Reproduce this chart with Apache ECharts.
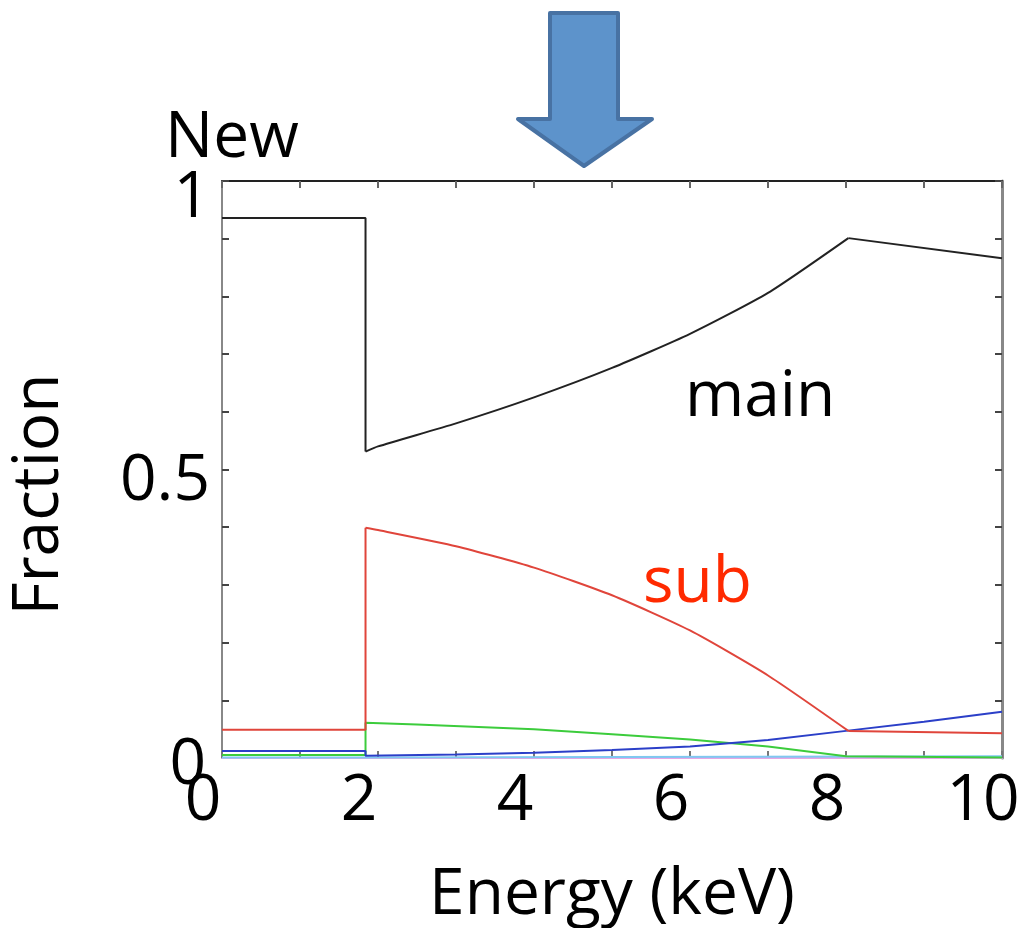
<!DOCTYPE html>
<html>
<head>
<meta charset="utf-8">
<script src="https://cdn.jsdelivr.net/npm/echarts@6/dist/echarts.min.js"></script>
<style>
  html, body { margin: 0; padding: 0; background: #fff; }
  #chart { width: 1033px; height: 928px; }
</style>
</head>
<body>
<div id="chart"></div>
<script>
// Fraction of each component versus photon energy (keV).
// Each component: a flat part below the edge, the jump at the edge, then the curve above it.
const mainLowEnergy = [0, 1.84, 1.84];
const mainLowFraction = [0.936, 0.936, 0.531];
const mainRiseEnergy = [1.84, 2, 3, 4, 5, 6, 7, 8.03];
const mainRiseFraction = [0.531, 0.540, 0.580, 0.625, 0.676, 0.735, 0.806, 0.901];
const mainTailEnergy = [8.03, 10];
const mainTailFraction = [0.901, 0.866];

const subLowEnergy = [0, 1.84, 1.84];
const subLowFraction = [0.049, 0.049, 0.399];
const subFallEnergy = [1.84, 2, 3, 4, 5, 6, 7, 8.03];
const subFallFraction = [0.399, 0.395, 0.367, 0.330, 0.282, 0.221, 0.143, 0.047];
const subTailEnergy = [8.03, 10];
const subTailFraction = [0.047, 0.043];

const greenEnergy = [0, 1.84, 1.84, 2.5, 4, 5, 6, 7, 8, 10];
const greenFraction = [0.005, 0.005, 0.061, 0.058, 0.05, 0.041, 0.032, 0.02, 0.003, 0.001];

const blueEnergy = [0, 1.84, 1.84, 3, 4, 5, 6, 7, 8, 9, 10];
const blueFraction = [0.012, 0.012, 0.004, 0.006, 0.009, 0.014, 0.02, 0.031, 0.047, 0.063, 0.08];

const cyanEnergy = [0, 1.84, 1.84, 10];
const cyanFraction = [0.001, 0.001, 0.003, 0.003];

const magentaEnergy = [0, 10];
const magentaFraction = [0, 0];

const xTickLabels = ['0', '2', '4', '6', '8', '10'];
const yTickLabels = ['0', '0.5', '1'];

const FONT = 'Open Sans';

function pairs(xs, ys) {
  return xs.map((x, i) => [x, ys[i]]);
}

function lineSeries(name, xs, ys, color, width, smooth, axisIndex) {
  return {
    name: name,
    type: 'line',
    xAxisIndex: axisIndex || 0,
    yAxisIndex: axisIndex || 0,
    data: pairs(xs, ys),
    showSymbol: false,
    symbol: 'none',
    smooth: smooth || false,
    animation: false,
    lineStyle: { color: color, width: width },
    z: 3
  };
}

const chart = echarts.init(document.getElementById('chart'));

const labelStyle = { fontFamily: FONT, fontSize: 64, color: '#000' };

const option = {
  backgroundColor: '#ffffff',
  animation: false,
  grid: {
    left: 222, right: 31, top: 181, bottom: 170,
    containLabel: false,
    outerBoundsMode: 'none'
  },
  xAxis: [
    {
      type: 'value',
      min: 0, max: 10, interval: 1,
      position: 'bottom',
      name: 'Energy (keV)',
      nameLocation: 'middle',
      nameGap: 106,
      nameTextStyle: labelStyle,
      axisLine: { show: true, onZero: false, lineStyle: { color: '#c2b4cf', width: 2 } },
      axisTick: { show: true, inside: true, length: 7, lineStyle: { color: '#777', width: 2 } },
      splitLine: { show: false },
      axisLabel: {
        fontFamily: FONT, fontSize: 64, color: '#000', margin: 12,
        padding: [0, 38, 0, 0],
        formatter: v => (xTickLabels.indexOf(String(v)) >= 0 ? String(v) : '')
      }
    },
    {
      type: 'value',
      min: 0, max: 10, interval: 1,
      position: 'top',
      axisLine: { show: true, onZero: false, lineStyle: { color: '#222', width: 2 } },
      axisTick: { show: true, inside: true, length: 7, lineStyle: { color: '#666', width: 2 } },
      axisLabel: { show: false },
      splitLine: { show: false }
    }
  ],
  yAxis: [
    {
      type: 'value',
      min: 0, max: 1, interval: 0.1,
      position: 'left',
      name: 'Fraction',
      nameLocation: 'middle',
      nameGap: 150,
      nameTextStyle: Object.assign({ padding: [0, 50, 0, 0] }, labelStyle),
      axisLine: { show: true, onZero: false, lineStyle: { color: '#888', width: 2 } },
      axisTick: { show: true, inside: true, length: 7, lineStyle: { color: '#444', width: 2 } },
      splitLine: { show: false },
      axisLabel: {
        fontFamily: FONT, fontSize: 64, color: '#000', margin: 12,
        formatter: v => {
          const s = String(Math.round(v * 10) / 10);
          if (s === yTickLabels[0]) return '{z|0}';
          if (s === yTickLabels[1]) return '{h|0.5}';
          if (s === yTickLabels[2]) return '{o|1}';
          return '';
        },
        rich: {
          z: { fontFamily: FONT, fontSize: 64, color: '#000', padding: [16, 4, 0, 0] },
          h: { fontFamily: FONT, fontSize: 64, color: '#000', padding: [24, 0, 0, 0] },
          o: { fontFamily: FONT, fontSize: 64, color: '#000', padding: [36, 0, 0, 0] }
        }
      }
    },
    {
      type: 'value',
      min: 0, max: 1, interval: 0.1,
      position: 'right',
      axisLine: { show: true, onZero: false, lineStyle: { color: '#888', width: 3 } },
      axisTick: { show: true, inside: true, length: 7, lineStyle: { color: '#444', width: 2 } },
      axisLabel: { show: false },
      splitLine: { show: false }
    }
  ],
  series: [
    // baseline trace drawn on the top/right axis pair (same scales as bottom/left)
    lineSeries('magenta', magentaEnergy, magentaFraction, '#e6a6e6', 2, false, 1),
    lineSeries('cyan', cyanEnergy, cyanFraction, '#7fc8f0', 2),
    lineSeries('green', greenEnergy, greenFraction, '#3ccc3c', 2),
    lineSeries('blue', blueEnergy, blueFraction, '#2b3fc8', 2),
    lineSeries('sub-low', subLowEnergy, subLowFraction, '#e0453b', 2),
    lineSeries('sub-fall', subFallEnergy, subFallFraction, '#e0453b', 2, 0.2),
    lineSeries('sub-tail', subTailEnergy, subTailFraction, '#e0453b', 2),
    lineSeries('main-low', mainLowEnergy, mainLowFraction, '#222222', 2),
    lineSeries('main-rise', mainRiseEnergy, mainRiseFraction, '#222222', 2, 0.2),
    lineSeries('main-tail', mainTailEnergy, mainTailFraction, '#222222', 2)
  ],
  graphic: [
    {
      type: 'polygon',
      shape: {
        points: [[550, 13], [618, 13], [618, 119], [652, 119], [584, 166], [518, 119], [550, 119]]
      },
      style: { fill: '#5d93cb', stroke: '#4872a3', lineWidth: 4, lineJoin: 'round' },
      z: 10
    },
    {
      type: 'text', left: 165, top: 107,
      style: { text: 'New', font: '64px "Open Sans"', fill: '#000' }, z: 10
    },
    {
      type: 'text', left: 685, top: 366,
      style: { text: 'main', font: '64px "Open Sans"', fill: '#000' }, z: 10
    },
    {
      type: 'text', left: 643, top: 552,
      style: { text: 'sub', font: '64px "Open Sans"', fill: '#ff2a00' }, z: 10
    }
  ]
};

chart.setOption(option);
</script>
</body>
</html>
